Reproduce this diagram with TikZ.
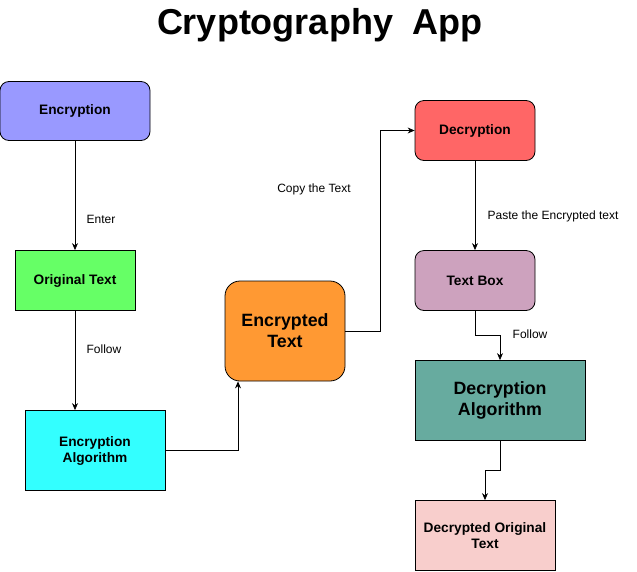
\documentclass[tikz,border=0pt]{standalone}
\usepackage{fontspec}
\setmainfont{Liberation Sans}
\usetikzlibrary{arrows.meta}
\definecolor{encblue}{HTML}{9999FF}
\definecolor{origgreen}{HTML}{66FF66}
\definecolor{algcyan}{HTML}{33FFFF}
\definecolor{encorange}{HTML}{FF9933}
\definecolor{decred}{HTML}{FF6666}
\definecolor{boxpurple}{HTML}{CDA2BE}
\definecolor{algteal}{HTML}{67AB9F}
\definecolor{finalpink}{HTML}{F8CECC}
\begin{document}
\begin{tikzpicture}[x=1pt,y=-1pt,
   every node/.style={font=\fontsize{13.7}{16}\selectfont\bfseries,align=center},
   block/.style={draw,line width=0.8pt,inner sep=0pt},
   roundblock/.style={block,rounded corners=9pt},
   bigtext/.style={font=\fontsize{17.8}{21}\selectfont\bfseries},
   edgelabel/.style={font=\fontsize{12}{14}\selectfont},
   link/.style={draw,line width=0.8pt,-{Stealth[length=7pt,width=6pt]}}]
\useasboundingbox (0,0) rectangle (637,571);
\node at (320,25) {\fontsize{36}{40}\selectfont Cryptography\ \ App};
% encryption side
\node[roundblock,fill=encblue,minimum width=150pt,minimum height=59pt] (enc) at (75,111) {Encryption};
\node[block,fill=origgreen,minimum width=120pt,minimum height=60pt] (orig) at (75,280.5) {Original Text};
\node[block,fill=algcyan,minimum width=140pt,minimum height=80pt] (encalg) at (95,450.5) {Encryption\\Algorithm};
\node[roundblock,rounded corners=15pt,fill=encorange,minimum width=120pt,minimum height=100pt,
   bigtext] (enctext) at (285,331) {Encrypted\\Text};
% decryption side
\node[roundblock,fill=decred,minimum width=120pt,minimum height=60pt] (dec) at (475,130.5) {Decryption};
\node[roundblock,fill=boxpurple,minimum width=120pt,minimum height=60pt] (textbox) at (475,280.5) {Text Box};
\node[block,fill=algteal,minimum width=170pt,minimum height=80pt,
   bigtext] (decalg) at (500,400.5) {Decryption\\Algorithm};
\node[block,fill=finalpink,minimum width=140pt,minimum height=70pt] (final) at (485,535.5) {Decrypted Original\\Text};
% connectors
\draw[link] (enc) -- (orig);
\node[edgelabel] (enterlbl) at (101,219) {Enter};
\draw[link] (orig.south) -- (encalg.north -| orig.south);
\node[edgelabel] (followa) at (104,349) {Follow};
\draw[link] (encalg.east) -| (238,0 |- enctext.south);
\draw[link] (enctext.east) -- (380,331) |- (dec.west);
\node[edgelabel] (copylbl) at (314,189) {Copy the Text};
\draw[link] (dec) -- (textbox);
\node[edgelabel] (pastelbl) at (553,216) {Paste the Encrypted text};
\draw[link] (textbox.south) -- (475,335) -| (decalg.north);
\node[edgelabel] (followb) at (530,334) {Follow};
\draw[link] (decalg.south) -- (500,470) -| (final.north);
\end{tikzpicture}
\end{document}
